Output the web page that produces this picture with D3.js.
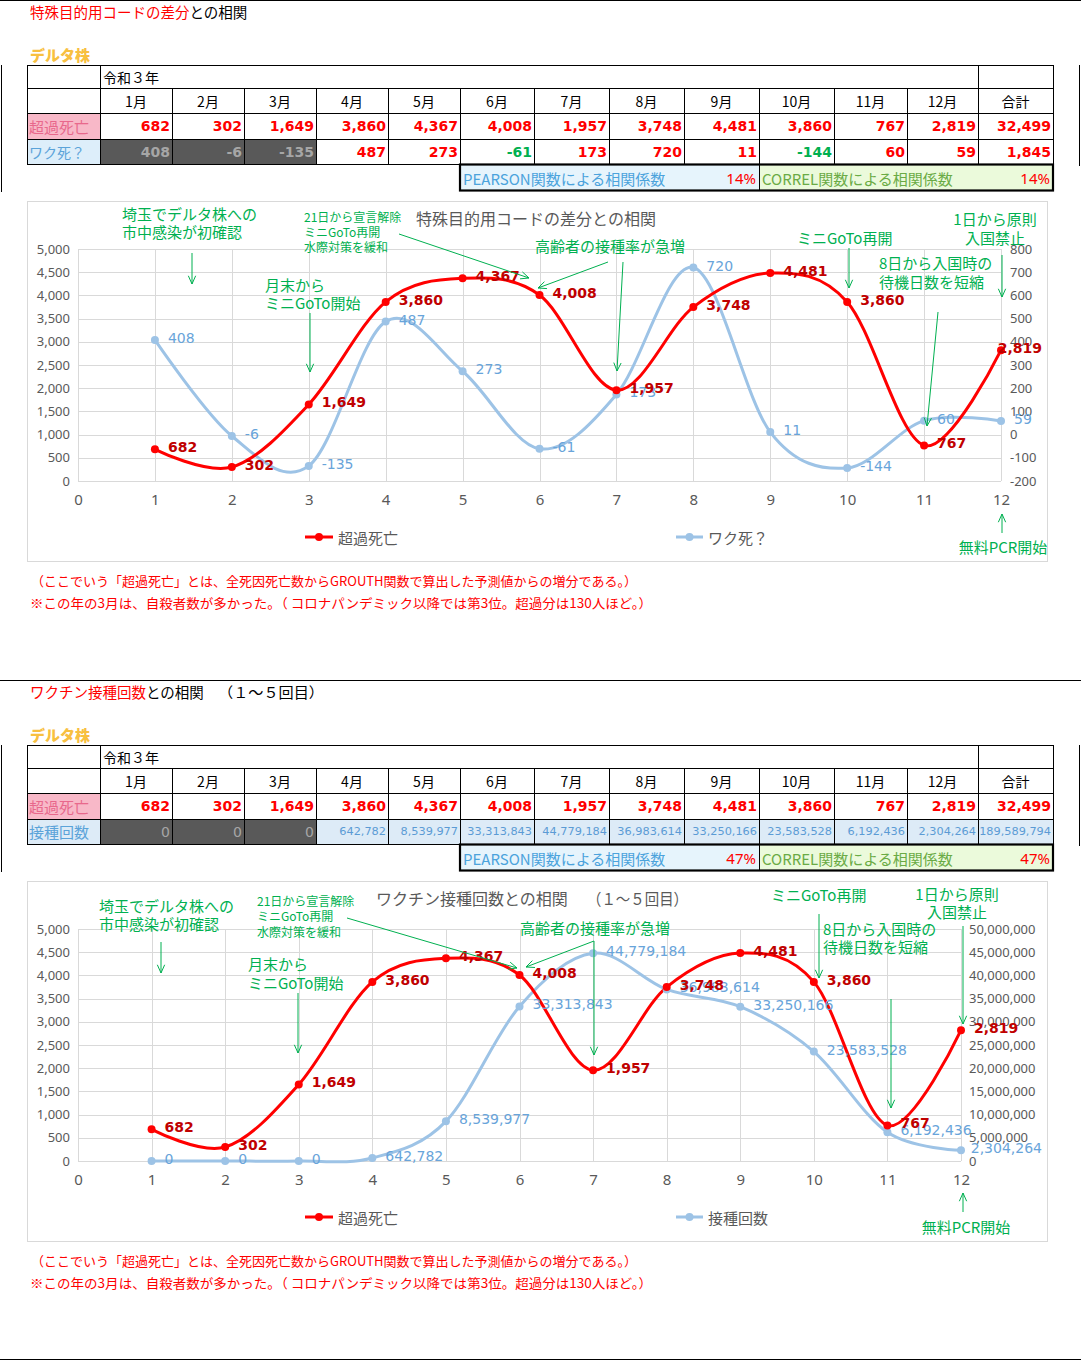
<!DOCTYPE html>
<html><head><meta charset="utf-8">
<script src="https://cdn.jsdelivr.net/npm/d3@7"></script>
<style>body{margin:0;background:#fff} svg{display:block}</style>
</head><body>
<svg id="page" width="1081" height="1361"></svg>
<script>
// ---------------- DATA ----------------
const months = [1,2,3,4,5,6,7,8,9,10,11,12];
const monthLabels = ["1月","2月","3月","4月","5月","6月","7月","8月","9月","10月","11月","12月"];
const excessDeaths = [682, 302, 1649, 3860, 4367, 4008, 1957, 3748, 4481, 3860, 767, 2819];
const excessTotal = 32499;
const wakuShi = [408, -6, -135, 487, 273, -61, 173, 720, 11, -144, 60, 59];
const wakuShiTotal = 1845;
const vaccineDoses = [0, 0, 0, 642782, 8539977, 33313843, 44779184, 36983614, 33250166, 23583528, 6192436, 2304264];
const vaccineTotal = 189589794;
const correlation1 = ["14%", "14%"];
const correlation2 = ["47%", "47%"];
const leftTicks = [0,500,1000,1500,2000,2500,3000,3500,4000,4500,5000];
const rightTicks1 = [-200,-100,0,100,200,300,400,500,600,700,800];
const rightTicks2 = [0,5000000,10000000,15000000,20000000,25000000,30000000,35000000,40000000,45000000,50000000];
const xTicks = [0,1,2,3,4,5,6,7,8,9,10,11,12];

// ---------------- STYLE ----------------
const svg = d3.select("#page");
const FJP = "'Noto Sans CJK JP','Noto Sans',sans-serif";
const FNUM = "'DejaVu Sans',Verdana,sans-serif";
const FAX = "'Noto Sans','DejaVu Sans',sans-serif";
const RED = "#ff0000", DRED = "#c00000", BLINE = "#9dc3e6", BTXT = "#68a4da",
      GREEN = "#00b050", GRID = "#d9d9d9", AXT = "#595959";
const fmt = d => d3.format(",")(d).replace("\u2212", "-");

// page rules
function hline(x1,x2,y,c,w){svg.append("line").attr("x1",x1).attr("x2",x2).attr("y1",y).attr("y2",y).attr("stroke",c||"#000").attr("stroke-width",w||1);}
function vline(x,y1,y2,c,w){svg.append("line").attr("x1",x).attr("x2",x).attr("y1",y1).attr("y2",y2).attr("stroke",c||"#000").attr("stroke-width",w||1);}
hline(0,1081,0.5); hline(0,1081,680.5); hline(0,1081,1359.5);
[0,680].forEach(oy=>{ vline(1.5,65+oy,192+oy); vline(1079.5,65+oy,166+oy); });

// ---------------- SECTION HEADERS ----------------
function sectionHeader(oy, redPart, blackPart, extra){
  const t = svg.append("text").attr("x",30).attr("y",oy+11).attr("dominant-baseline","central")
    .style("font-family",FJP).style("font-size","14.5px");
  t.append("tspan").attr("fill",RED).text(redPart);
  t.append("tspan").attr("fill","#000").text(blackPart);
  if (extra) {
    svg.append("text").attr("x",218).attr("y",oy+11).attr("dominant-baseline","central")
      .attr("textLength",106).attr("lengthAdjust","spacingAndGlyphs")
      .style("font-family",FJP).style("font-size","14.5px").attr("fill","#000").text(extra);
  }
  svg.append("text").attr("x",30).attr("y",oy+54).attr("dominant-baseline","central")
    .style("font-family",FJP).style("font-size","15px").style("font-weight","900")
    .attr("fill","#f8c040").text("デルタ株");
}
sectionHeader(0, "特殊目的用コードの差分", "との相関");
sectionHeader(680, "ワクチン接種回数", "との相関", "（１～５回目）");

// ---------------- TABLES ----------------
const colEdges = [27,100,172,244,316,388,460,534,609,684,759,834,907,978,1053];
function cell(x1,y1,x2,y2,fill){
  svg.append("rect").attr("x",x1+0.5).attr("y",y1+0.5).attr("width",x2-x1).attr("height",y2-y1)
    .attr("fill",fill||"#fff").attr("stroke","#000").attr("stroke-width",1);
}
function ctext(x,y,txt,o){
  return svg.append("text").attr("x",x).attr("y",y).attr("dominant-baseline","central")
    .attr("text-anchor",o.anchor||"start").attr("fill",o.fill||"#000")
    .style("font-family",o.font||FJP).style("font-size",o.size||"14px").style("font-weight",o.weight||"normal")
    .text(txt);
}
function drawTable(oy, row4){
  const r = [65,88,113,139,164,190].map(v=>v+oy);
  // row 0
  cell(27,r[0],100,r[1]); cell(100,r[0],978,r[1]); cell(978,r[0],1053,r[1]);
  ctext(103,(r[0]+r[1])/2,"令和３年",{size:"14px"});
  // row 1 months
  cell(27,r[1],100,r[2]);
  monthLabels.forEach((m,i)=>{ cell(colEdges[i+1],r[1],colEdges[i+2],r[2]);
    ctext((colEdges[i+1]+colEdges[i+2])/2,(r[1]+r[2])/2,m,{anchor:"middle"}); });
  cell(978,r[1],1053,r[2]); ctext(1015.5,(r[1]+r[2])/2,"合計",{anchor:"middle"});
  // row 2 excess deaths
  cell(27,r[2],100,r[3],"#f8b8c8"); ctext(29,(r[2]+r[3])/2,"超過死亡",{fill:"#e8688c",size:"15px"});
  excessDeaths.forEach((v,i)=>{ cell(colEdges[i+1],r[2],colEdges[i+2],r[3]);
    ctext(colEdges[i+2]-2,(r[2]+r[3])/2,fmt(v),{anchor:"end",fill:RED,font:FNUM,weight:"bold"}); });
  cell(978,r[2],1053,r[3]); ctext(1051,(r[2]+r[3])/2,fmt(excessTotal),{anchor:"end",fill:RED,font:FNUM,weight:"bold"});
  // row 3
  cell(27,r[3],100,r[4],row4.labelBg); ctext(29,(r[3]+r[4])/2,row4.label,{fill:"#5ba3d9",size:row4.labelSize});
  row4.values.forEach((v,i)=>{
    const st = row4.style(v,i);
    cell(colEdges[i+1],r[3],colEdges[i+2],r[4],st.bg);
    ctext(colEdges[i+2]-2,(r[3]+r[4])/2,fmt(v),{anchor:"end",fill:st.fill,font:FNUM,weight:st.weight,size:st.size});
  });
  const ts = row4.totalStyle;
  cell(978,r[3],1053,r[4],ts.bg);
  ctext(1051,(r[3]+r[4])/2,fmt(row4.total),{anchor:"end",fill:ts.fill,font:FNUM,weight:ts.weight,size:ts.size});
  // correlation row
  svg.append("rect").attr("x",460).attr("y",r[4]).attr("width",299).attr("height",r[5]-r[4]).attr("fill","#e6f4fc");
  svg.append("rect").attr("x",759).attr("y",r[4]).attr("width",294).attr("height",r[5]-r[4]).attr("fill","#ebfadb");
  vline(759.5,r[4],r[5],"#000",1);
  svg.append("rect").attr("x",460).attr("y",r[4]+0.5).attr("width",593).attr("height",r[5]-r[4])
    .attr("fill","none").attr("stroke","#000").attr("stroke-width",2.2);
  ctext(463,(r[4]+r[5])/2+1,"PEARSON関数による相関係数",{fill:"#4ba3dc",size:"15px"});
  ctext(756,(r[4]+r[5])/2+1,row4.corr[0],{anchor:"end",fill:RED,size:"15px",font:FAX});
  ctext(762,(r[4]+r[5])/2+1,"CORREL関数による相関係数",{fill:"#6aab45",size:"15px"});
  ctext(1050,(r[4]+r[5])/2+1,row4.corr[1],{anchor:"end",fill:RED,size:"15px",font:FAX});
}
drawTable(0,{
  label:"ワク死？", labelBg:"#ddeefa", labelSize:"14px",
  values: wakuShi, total: wakuShiTotal, corr: correlation1,
  style:(v,i)=> i<3 ? {bg:"#595959",fill:"#a6a6a6",weight:"bold"} : {bg:"#fff",fill: v<0?GREEN:RED,weight:"bold"},
  totalStyle:{bg:"#fff",fill:RED,weight:"bold"}
});
drawTable(680,{
  label:"接種回数", labelBg:"#ddebf7", labelSize:"15px",
  values: vaccineDoses, total: vaccineTotal, corr: correlation2,
  style:(v,i)=> i<3 ? {bg:"#595959",fill:"#a6a6a6",weight:"normal",size:"14px"} : {bg:"#ddebf7",fill:"#5b9bd5",weight:"normal",size:"11.3px"},
  totalStyle:{bg:"#ddebf7",fill:"#5b9bd5",weight:"normal",size:"11.3px"}
});

// ---------------- CHARTS ----------------
function arrow(g,x1,y1,x2,y2){
  g.append("line").attr("x1",x1).attr("y1",y1).attr("x2",x2).attr("y2",y2).attr("stroke",GREEN).attr("stroke-width",1);
  const a = Math.atan2(y2-y1,x2-x1), L=9, W=0.42;
  g.append("path").attr("d",`M${x2-L*Math.cos(a-W)},${y2-L*Math.sin(a-W)}L${x2},${y2}L${x2-L*Math.cos(a+W)},${y2-L*Math.sin(a+W)}`)
    .attr("fill","none").attr("stroke",GREEN).attr("stroke-width",1);
}
function note(g,x,y,txt,size,anchor){
  g.append("text").attr("x",x).attr("y",y).attr("dominant-baseline","central").attr("text-anchor",anchor||"start")
    .attr("fill",GREEN).style("font-family",FJP).style("font-size",size||"15px").text(txt);
}

function drawChart(cfg){
  const oy = cfg.oy;
  const g = svg.append("g");
  g.append("rect").attr("x",27.5).attr("y",201.5+oy).attr("width",1020).attr("height",360)
    .attr("fill","#fff").attr("stroke",GRID);
  const x = d3.scaleLinear().domain([0,12]).range([78,cfg.plotRight]);
  const yL = d3.scaleLinear().domain([0,5000]).range([481+oy,249+oy]);
  const yR = d3.scaleLinear().domain(cfg.rightDomain).range([481+oy,249+oy]);

  // grid
  g.selectAll(null).data(leftTicks).join("line")
    .attr("x1",x(0)).attr("x2",x(12)).attr("y1",d=>Math.round(yL(d))+0.5).attr("y2",d=>Math.round(yL(d))+0.5)
    .attr("stroke",GRID);
  g.selectAll(null).data(xTicks).join("line")
    .attr("x1",d=>Math.round(x(d))+0.5).attr("x2",d=>Math.round(x(d))+0.5).attr("y1",yL(5000)).attr("y2",yL(0))
    .attr("stroke",GRID);

  // axes
  const styleAxis = (sel,size)=>{ sel.select(".domain").remove();
    sel.attr("font-family",FAX).attr("font-size",size); sel.selectAll("text").attr("fill",AXT); };
  g.append("g").attr("transform",`translate(${x(0)},0)`)
    .call(d3.axisLeft(yL).tickValues(leftTicks).tickFormat(fmt).tickSize(0).tickPadding(8)).call(s=>styleAxis(s,13));
  g.append("g").attr("transform",`translate(${x(12)},0)`)
    .call(d3.axisRight(yR).tickValues(cfg.rightTicks).tickFormat(fmt).tickSize(0).tickPadding(cfg.rightPad)).call(s=>styleAxis(s,13));
  g.append("g").attr("transform",`translate(0,${yL(0)})`)
    .call(d3.axisBottom(x).tickValues(xTicks).tickFormat(d3.format("d")).tickSize(0).tickPadding(13)).call(s=>styleAxis(s,15));

  // title
  const tt = g.append("text").attr("y",218+oy).attr("dominant-baseline","central").attr("fill",AXT)
    .style("font-family",FJP).style("font-size","16px");
  if (cfg.title2){
    tt.attr("x",376).text(cfg.title);
    g.append("text").attr("x",587).attr("y",218+oy).attr("dominant-baseline","central").attr("fill",AXT)
      .attr("textLength",101).attr("lengthAdjust","spacingAndGlyphs")
      .style("font-family",FJP).style("font-size","16px").text(cfg.title2);
  } else { tt.attr("x",536).attr("text-anchor","middle").text(cfg.title); }

  // lines
  const curve = d3.curveCardinal.tension(0);
  const redLine = d3.line().x((d,i)=>x(months[i])).y(d=>yL(d)).curve(curve);
  const blueLine = d3.line().x((d,i)=>x(months[i])).y(d=>yR(d)).curve(curve);
  g.append("path").attr("d",blueLine(cfg.blue)).attr("fill","none").attr("stroke",BLINE).attr("stroke-width",3);
  g.append("path").attr("d",redLine(excessDeaths)).attr("fill","none").attr("stroke",RED).attr("stroke-width",3);
  g.selectAll(null).data(cfg.blue).join("circle").attr("cx",(d,i)=>x(months[i])).attr("cy",d=>yR(d)).attr("r",4).attr("fill",BLINE);
  g.selectAll(null).data(excessDeaths).join("circle").attr("cx",(d,i)=>x(months[i])).attr("cy",d=>yL(d)).attr("r",4).attr("fill",RED);

  const maxX = 1042;
  const labels = (data, yS, fill, weight) => {
    g.selectAll(null).data(data).join("text")
      .attr("y",d=>yS(d)-2).attr("dominant-baseline","central").attr("fill",fill)
      .style("font-family",FNUM).style("font-size","14px").style("font-weight",weight)
      .text(d=>fmt(d))
      .each(function(d,i){ const w=this.getComputedTextLength(); let px=x(months[i])+13; if(px+w>maxX) px=maxX-w; d3.select(this).attr("x",px); });
  };
  labels(cfg.blue, yR, BTXT, "normal");
  labels(excessDeaths, yL, DRED, "bold");

  // legend
  const ly = 537+oy;
  g.append("line").attr("x1",305).attr("x2",333).attr("y1",ly).attr("y2",ly).attr("stroke",RED).attr("stroke-width",3);
  g.append("circle").attr("cx",319).attr("cy",ly).attr("r",4).attr("fill",RED);
  g.append("text").attr("x",338).attr("y",ly).attr("dominant-baseline","central").attr("fill",AXT)
    .style("font-family",FJP).style("font-size","15px").text("超過死亡");
  g.append("line").attr("x1",676).attr("x2",703).attr("y1",ly).attr("y2",ly).attr("stroke",BLINE).attr("stroke-width",3);
  g.append("circle").attr("cx",689.5).attr("cy",ly).attr("r",4).attr("fill",BLINE);
  g.append("text").attr("x",708).attr("y",ly).attr("dominant-baseline","central").attr("fill",AXT)
    .style("font-family",FJP).style("font-size","15px").text(cfg.blueName);

  cfg.annotate(g);

  // notes
  svg.append("text").attr("x",31).attr("y",580+oy).attr("dominant-baseline","central").attr("fill",RED)
    .attr("textLength",606).attr("lengthAdjust","spacingAndGlyphs")
    .style("font-family",FJP).style("font-size","13px")
    .text("（ここでいう「超過死亡」とは、全死因死亡数からGROUTH関数で算出した予測値からの増分である。）");
  svg.append("text").attr("x",30).attr("y",602+oy).attr("dominant-baseline","central").attr("fill",RED)
    .attr("textLength",622).attr("lengthAdjust","spacingAndGlyphs")
    .style("font-family",FJP).style("font-size","13px")
    .text("※この年の3月は、自殺者数が多かった。（ コロナパンデミック以降では第3位。超過分は130人ほど。）");
}

drawChart({
  oy:0, plotRight:1001, rightDomain:[-200,800], rightTicks:rightTicks1, rightPad:9,
  blue: wakuShi, blueName:"ワク死？", title:"特殊目的用コードの差分との相関",
  annotate: g=>{
    note(g,122,213,"埼玉でデルタ株への"); note(g,122,231,"市中感染が初確認");
    arrow(g,192,253,192,284);
    note(g,304,216,"21日から宣言解除","12px"); note(g,304,231,"ミニGoTo再開","12px"); note(g,304,246,"水際対策を緩和","12px");
    arrow(g,399,234,529,278);
    note(g,265,284,"月末から"); note(g,265,302,"ミニGoTo開始");
    arrow(g,310,313,310,372);
    note(g,535,245,"高齢者の接種率が急増");
    arrow(g,608,262,538,288); arrow(g,623,262,617,371);
    note(g,797,237,"ミニGoTo再開");
    arrow(g,849,248,849,288);
    note(g,879,262,"8日から入国時の"); note(g,879,281,"待機日数を短縮");
    arrow(g,938,312,927,426);
    note(g,995,218,"1日から原則",null,"middle"); note(g,995,237,"入国禁止",null,"middle");
    arrow(g,1002,255,1002,297);
    note(g,1003,546,"無料PCR開始",null,"middle");
    arrow(g,1002,533,1002,514);
  }
});
drawChart({
  oy:680, plotRight:961, rightDomain:[0,50000000], rightTicks:rightTicks2, rightPad:8,
  blue: vaccineDoses, blueName:"接種回数", title:"ワクチン接種回数との相関", title2:"（１～５回目）",
  annotate: g=>{
    note(g,99,905,"埼玉でデルタ株への"); note(g,99,923,"市中感染が初確認");
    arrow(g,161,942,161,973);
    note(g,257,900,"21日から宣言解除","12px"); note(g,257,915,"ミニGoTo再開","12px"); note(g,257,931,"水際対策を緩和","12px");
    arrow(g,347,918,517,968);
    note(g,248,963,"月末から"); note(g,248,982,"ミニGoTo開始");
    arrow(g,298,993,298,1053);
    note(g,520,927,"高齢者の接種率が急増");
    arrow(g,594,941,526,967); arrow(g,594,941,594,1055);
    note(g,771,894,"ミニGoTo再開");
    arrow(g,819,914,819,978);
    note(g,823,928,"8日から入国時の"); note(g,823,946,"待機日数を短縮");
    arrow(g,891,999,891,1108);
    note(g,957,893,"1日から原則",null,"middle"); note(g,957,911,"入国禁止",null,"middle");
    arrow(g,963,926,963,1024);
    note(g,966,1226,"無料PCR開始",null,"middle");
    arrow(g,963,1212,963,1193);
  }
});
</script>
</body></html>
